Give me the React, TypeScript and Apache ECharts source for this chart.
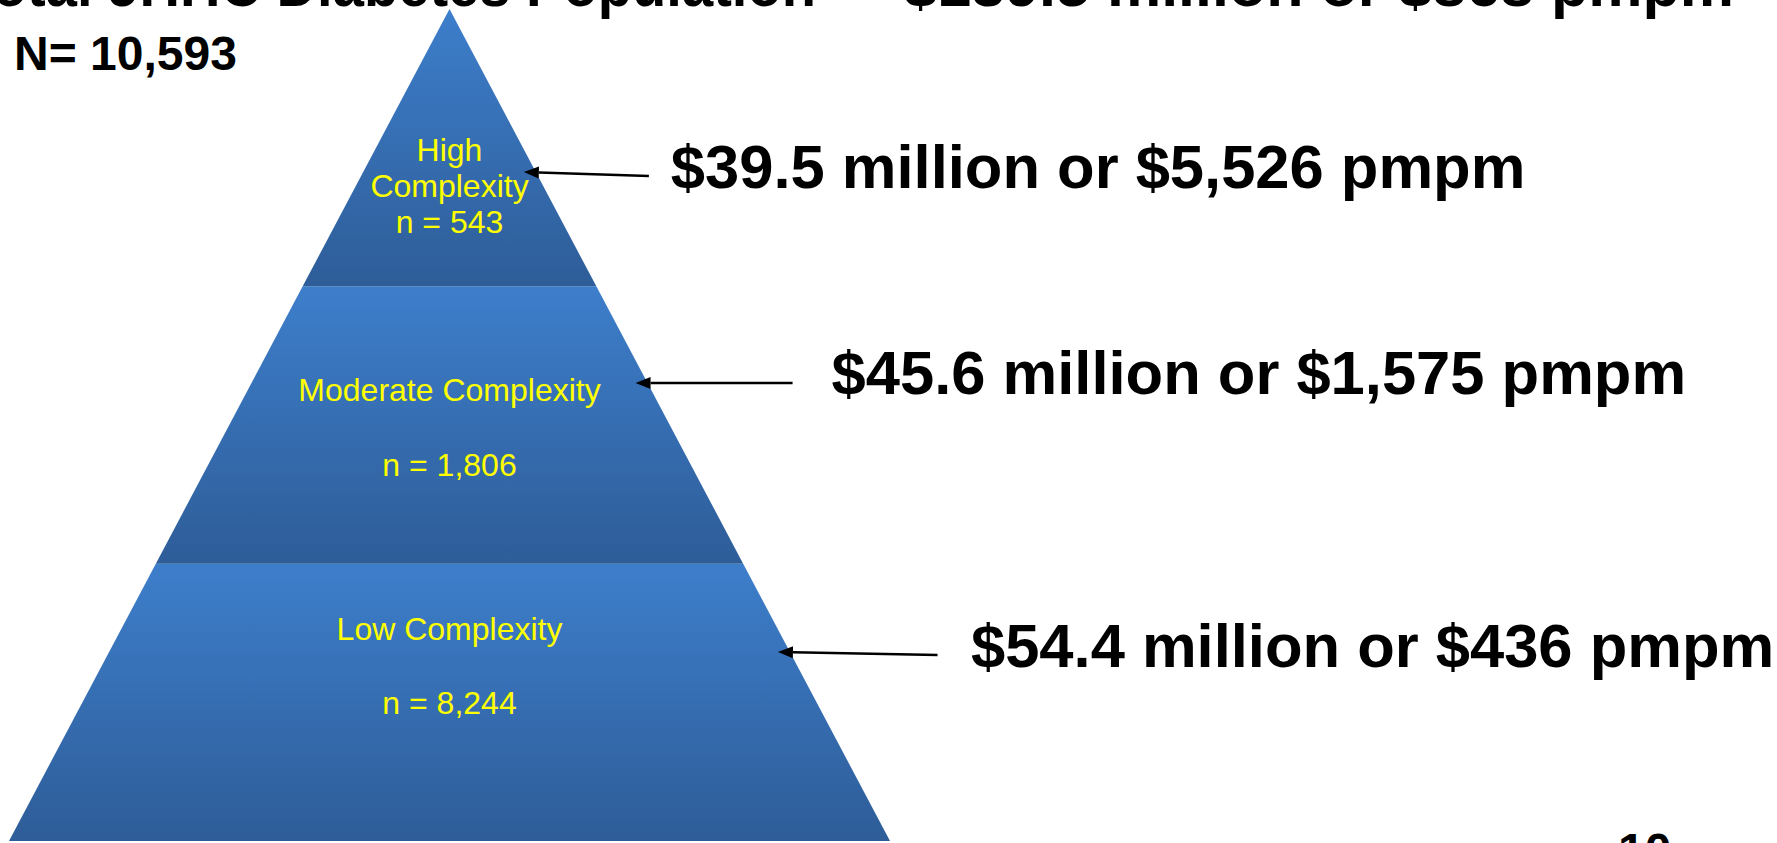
import React, { useEffect, useRef } from "react";
import * as echarts from "echarts";

// ---------- data ----------
const tierNames = ["Low Complexity", "Moderate Complexity", "High\nComplexity"];
const tierCounts = [8244, 1806, 543];
const costMillions = [54.4, 45.6, 39.5];
const costPmpm = [436, 1575, 5526];
const totalPmpm = 868;
const titlePrefix = "Total JHHC Diabetes Population";
const pageNumber = "10";

// ---------- layout (positions within each tier, fraction of tier height from its bottom) ----------
const nameLevel = [0.764, 0.626, 0.427];
const countLevel = [0.498, 0.356, 0.232];
const arrowTipLevel = [0.6815, 0.651, 0.412];
const arrowTailLevel = [0.6707, 0.651, 0.398];
const arrowTailOffset = [146, 145, 111]; // px right of pyramid edge
const labelOffset = [181, 184, 135]; // px right of pyramid edge
const labelDy = [-6, -11, -6];

const FONT = "'Liberation Sans', Arial, Helvetica, sans-serif";
const LEVELS = tierNames.length;

const fmt = (v: number) => v.toLocaleString("en-US");

export default function App() {
  const ref = useRef<HTMLDivElement>(null);

  useEffect(() => {
    if (!ref.current) return;
    const chart = echarts.init(ref.current, null, { renderer: "svg" });

    const totalN = tierCounts.reduce((a, b) => a + b, 0);
    const totalCost = costMillions.reduce((a, b) => a + b, 0);

    const renderItem = (params: any, api: any) => {
      const i = api.value(0) as number;
      const n = api.value(1) as number;
      const cost = api.value(2) as number;
      const pmpm = api.value(3) as number;
      const half = (y: number) => (LEVELS - y) / LEVELS;
      const p = (x: number, y: number) => api.coord([x, y]);
      const y0 = i;
      const y1 = i + 1;
      const pts = [p(-half(y0), y0), p(half(y0), y0), p(half(y1), y1), p(-half(y1), y1)];
      const cx = p(0, y0)[0];

      const children: any[] = [];
      children.push({
        type: "polygon",
        shape: { points: pts },
        style: {
          fill: new echarts.graphic.LinearGradient(0, 0, 0, 1, [
            { offset: 0, color: "#3d7ecb" },
            { offset: 1, color: "#2e5d98" },
          ]),
        },
      });
      const nameY = p(0, y0 + nameLevel[i])[1];
      const countY = p(0, y0 + countLevel[i])[1];
      children.push({
        type: "text",
        x: cx,
        y: nameY,
        style: {
          text: tierNames[i],
          fill: "#ffff00",
          fontFamily: FONT,
          fontSize: 32,
          lineHeight: 36,
          align: "center",
          verticalAlign: "middle",
        },
      });
      children.push({
        type: "text",
        x: cx,
        y: countY,
        style: {
          text: "n = " + fmt(n),
          fill: "#ffff00",
          fontFamily: FONT,
          fontSize: 32,
          align: "center",
          verticalAlign: "middle",
        },
      });

      // arrow
      const tipLv = y0 + arrowTipLevel[i];
      const tailLv = y0 + arrowTailLevel[i];
      const edgeTip = p(half(tipLv), tipLv);
      const edgeTail = p(half(tailLv), tailLv);
      const tip = [edgeTip[0] - 12, edgeTip[1]];
      const tail = [edgeTail[0] + arrowTailOffset[i], edgeTail[1]];
      const dx = tail[0] - tip[0];
      const dy = tail[1] - tip[1];
      const len = Math.sqrt(dx * dx + dy * dy);
      const ux = dx / len;
      const uy = dy / len;
      const headL = 15;
      const headW = 6;
      const bx = tip[0] + ux * headL;
      const by = tip[1] + uy * headL;
      children.push({
        type: "line",
        shape: { x1: bx, y1: by, x2: tail[0], y2: tail[1] },
        style: { stroke: "#000", lineWidth: 2.5 },
      });
      children.push({
        type: "polygon",
        shape: {
          points: [
            tip,
            [bx - uy * headW, by + ux * headW],
            [bx + uy * headW, by - ux * headW],
          ],
        },
        style: { fill: "#000" },
      });
      children.push({
        type: "text",
        x: edgeTip[0] + labelOffset[i],
        y: edgeTip[1] + labelDy[i],
        style: {
          text: "$" + cost.toFixed(1) + " million or $" + fmt(pmpm) + " pmpm",
          fill: "#000",
          fontFamily: FONT,
          fontWeight: "bold",
          fontSize: 61.5,
          align: "left",
          verticalAlign: "middle",
        },
      });

      return { type: "group", children };
    };

    const titleStyle = {
      fill: "#000",
      fontFamily: FONT,
      fontWeight: "bold",
      fontSize: 61,
      verticalAlign: "middle",
    };

    chart.setOption({
      animation: false,
      backgroundColor: "#ffffff",
      grid: { left: 9, right: 887, top: 9, bottom: 2, containLabel: false },
      xAxis: { type: "value", min: -1, max: 1, show: false },
      yAxis: { type: "value", min: 0, max: LEVELS, show: false },
      graphic: [
        {
          type: "text",
          x: 816,
          y: -15,
          scaleX: 0.92,
          style: { ...titleStyle, text: titlePrefix, align: "right" },
        },
        {
          type: "text",
          x: 858,
          y: -15,
          style: { ...titleStyle, text: "–", align: "center" },
        },
        {
          type: "text",
          x: 1734,
          y: -15,
          style: {
            ...titleStyle,
            text: `$${totalCost.toFixed(1)} million or $${fmt(totalPmpm)} pmpm`,
            align: "right",
          },
        },
        {
          type: "text",
          x: 14,
          y: 53,
          style: {
            text: "N= " + fmt(totalN),
            fill: "#000",
            fontFamily: FONT,
            fontWeight: "bold",
            fontSize: 48,
            align: "left",
            verticalAlign: "middle",
          },
        },
        {
          type: "text",
          x: 1618,
          y: 850,
          style: {
            text: pageNumber,
            fill: "#000",
            fontFamily: FONT,
            fontWeight: "bold",
            fontSize: 48,
            align: "left",
            verticalAlign: "middle",
          },
        },
      ],
      series: [
        {
          type: "custom",
          clip: false,
          renderItem,
          data: tierNames.map((_, i) => [i, tierCounts[i], costMillions[i], costPmpm[i]]),
        },
      ],
    });

    return () => chart.dispose();
  }, []);

  return (
    <div
      ref={ref}
      style={{ position: "fixed", left: 0, top: 0, width: "1777px", height: "843px", background: "#fff" }}
    />
  );
}
